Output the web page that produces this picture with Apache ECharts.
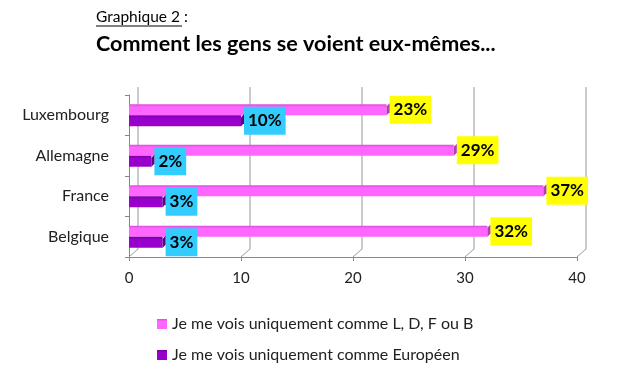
<!DOCTYPE html>
<html><head><meta charset="utf-8">
<script src="https://cdn.jsdelivr.net/npm/echarts@6/dist/echarts.min.js"></script>
<style>html,body{margin:0;padding:0;background:#fff}#c{width:619px;height:370px}</style>
</head><body><div id="c"></div>
<script>
var categories = ['Belgique', 'France', 'Allemagne', 'Luxembourg'];
var seriesNames = ['Je me vois uniquement comme L, D, F ou B', 'Je me vois uniquement comme Européen'];
var nationalValues = [32, 37, 29, 23];
var europeanValues = [3, 3, 2, 10];
var xTicks = [0, 10, 20, 30, 40];

var FONT = 'Lato';
var DX = 9, DY = -8;
var chart = echarts.init(document.getElementById('c'));
function lbl(bg) {
  return {
    show: true, position: 'right', distance: 3,
    formatter: function (p) { return p.value + '%'; },
    backgroundColor: bg, padding: [6, 4, 5, 4],
    color: '#000', fontFamily: FONT, fontWeight: 'bold', fontSize: 17
  };
}
function capRender(idx, dark) {
  return function (params, api) {
    var v = api.value(0), c = api.value(1);
    var end = api.coord([v, c]);
    var w = 11;
    var y0 = idx === 0 ? end[1] - w : end[1];
    var x = end[0];
    return { type: 'polygon', shape: { points: [[x, y0 + 2], [x + 3, y0 - 1], [x + 3, y0 + w - 3], [x, y0 + w]] },
      style: { fill: dark }, silent: true };
  };
}
chart.setOption({
  animation: false,
  graphic: [
    { type: 'text', left: 96, top: 9, style: { text: 'Graphique 2 :', font: '15.5px ' + FONT, fill: '#000' } },
    { type: 'line', shape: { x1: 96, y1: 26, x2: 182, y2: 26 }, style: { stroke: '#000', lineWidth: 1 } },
    { type: 'text', left: 96, top: 33, style: { text: 'Comment les gens se voient eux-mêmes...', font: 'bold 21.6px ' + FONT, fill: '#000' } }
  ],
  legend: {
    orient: 'vertical', left: 152, top: 311, itemGap: 15, itemWidth: 10, itemHeight: 10,
    icon: 'rect', textStyle: { fontFamily: FONT, fontSize: 16, color: '#222' },
    data: seriesNames
  },
  grid: { left: 129, right: 42, top: 95, bottom: 113 },
  xAxis: {
    type: 'value', min: 0, max: 40, interval: 10,
    axisLine: { show: true, lineStyle: { color: '#888' } },
    axisTick: { show: true, length: 4, lineStyle: { color: '#888' } },
    axisLabel: { fontFamily: FONT, fontSize: 15, color: '#222', margin: 14,
      formatter: function (v) { return xTicks.indexOf(v) >= 0 ? String(v) : ''; } },
    splitLine: { show: false }
  },
  yAxis: {
    type: 'category', data: categories,
    axisLine: { show: true, lineStyle: { color: '#888' } },
    axisTick: { show: true, length: 4, lineStyle: { color: '#888' } },
    axisLabel: { fontFamily: FONT, fontSize: 16, color: '#222', margin: 20 }
  },
  series: [
    { type: 'custom', silent: true, z: 1,
      data: xTicks.map(function (t) { return [t]; }),
      encode: { x: 0 },
      renderItem: function (params, api) {
        var cs = params.coordSys;
        var x = api.coord([api.value(0), categories[0]])[0];
        var bottom = cs.y + cs.height, top = cs.y;
        return { type: 'polyline', shape: { points: [[x, bottom], [x + DX, bottom + DY], [x + DX, top + DY]] },
          style: { stroke: '#999', lineWidth: 1, fill: null } };
      } },
    { name: seriesNames[0], type: 'bar', data: nationalValues, barWidth: 11, barGap: '0%', z: 3,
      itemStyle: { color: new echarts.graphic.LinearGradient(0, 0, 0, 1, [{offset: 0, color: '#d94fd9'}, {offset: 0.25, color: '#ff66ff'}, {offset: 1, color: '#ff66ff'}]) },
      label: lbl('#ffff00') },
    { name: seriesNames[1], type: 'bar', data: europeanValues, barWidth: 11, barGap: '0%', z: 3,
      itemStyle: { color: new echarts.graphic.LinearGradient(0, 0, 0, 1, [{offset: 0, color: '#7400a0'}, {offset: 0.25, color: '#9900cc'}, {offset: 1, color: '#9900cc'}]) },
      label: lbl('#33ccff') },
    { type: 'custom', silent: true, z: 4,
      data: nationalValues.map(function (v, i) { return [v, i]; }),
      encode: { x: 0, y: 1 }, renderItem: capRender(0, '#b040b0') },
    { type: 'custom', silent: true, z: 4,
      data: europeanValues.map(function (v, i) { return [v, i]; }),
      encode: { x: 0, y: 1 }, renderItem: capRender(1, '#600080') }
  ]
});
</script></body></html>
